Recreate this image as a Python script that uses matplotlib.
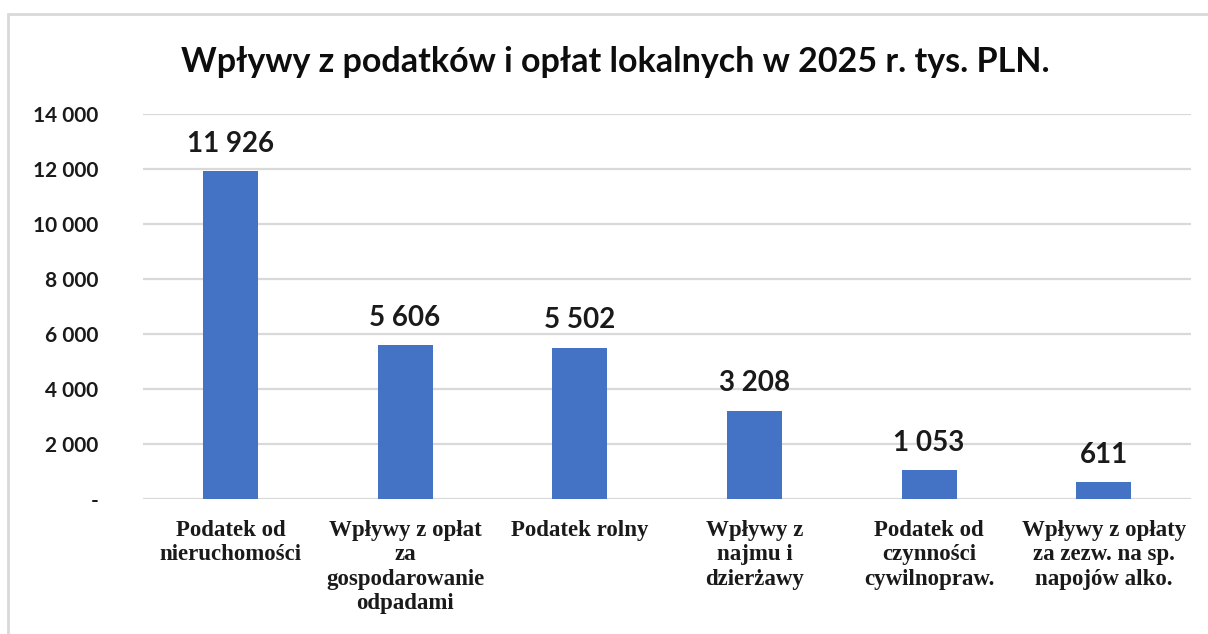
import matplotlib
matplotlib.use("Agg")
import matplotlib.pyplot as plt
from matplotlib.patches import Rectangle

# DATA
categories = [
    "Podatek od\nnieruchomości",
    "Wpływy z opłat\nza\ngospodarowanie\nodpadami",
    "Podatek rolny",
    "Wpływy z\nnajmu i\ndzierżawy",
    "Podatek od\nczynności\ncywilnopraw.",
    "Wpływy z opłaty\nza zezw. na sp.\nnapojów alko.",
]
values = [11926, 5606, 5502, 3208, 1053, 611]
yticks = [0, 2000, 4000, 6000, 8000, 10000, 12000, 14000]

def fmt(v):
    if v == 0:
        return "-"
    return "{:,}".format(v).replace(",", " ")

fig = plt.figure(figsize=(12.08, 6.34), dpi=100)
ax = fig.add_axes([0.1184, 0.213, 0.8676, 0.607])

# chart border
fig.patches.append(Rectangle((8 / 1208, -0.05), 1.1, 1 - 14 / 634 + 0.05,
                             transform=fig.transFigure, fill=False,
                             edgecolor="#d9d9d9", linewidth=2))

x = range(len(categories))
ax.bar(x, values, width=0.315, color="#4472C4", zorder=3)

for i, v in enumerate(values):
    ax.text(i, v + 520, fmt(v), ha="center", va="bottom",
            fontsize=20, fontweight="bold", family="Lato", color="#1a1a1a")

ax.set_xlim(-0.5, len(categories) - 0.5)
ax.set_ylim(0, 14000)
ax.set_yticks(yticks)
ax.set_yticklabels([fmt(t) for t in yticks], fontsize=15, fontweight="bold",
                   family="Lato", color="#1a1a1a")
ax.set_xticks(list(x))
ax.set_xticklabels(categories, fontsize=16.5, fontweight="bold",
                   family="Liberation Serif", color="#1a1a1a", linespacing=1.22)

ax.grid(axis="y", color="#d9d9d9", linewidth=1.6, zorder=0)
for s in ax.spines.values():
    s.set_visible(False)
ax.tick_params(axis="both", length=0)
ax.tick_params(axis="x", pad=15)
ax.tick_params(axis="y", pad=32)

fig.text(0.509, 0.902, "Wpływy z podatków i opłat lokalnych w 2025 r. tys. PLN.",
         ha="center", va="center", fontsize=24.5, fontweight="bold",
         family="Lato", color="#0d0d0d")

fig.savefig("out.png", dpi=100)
